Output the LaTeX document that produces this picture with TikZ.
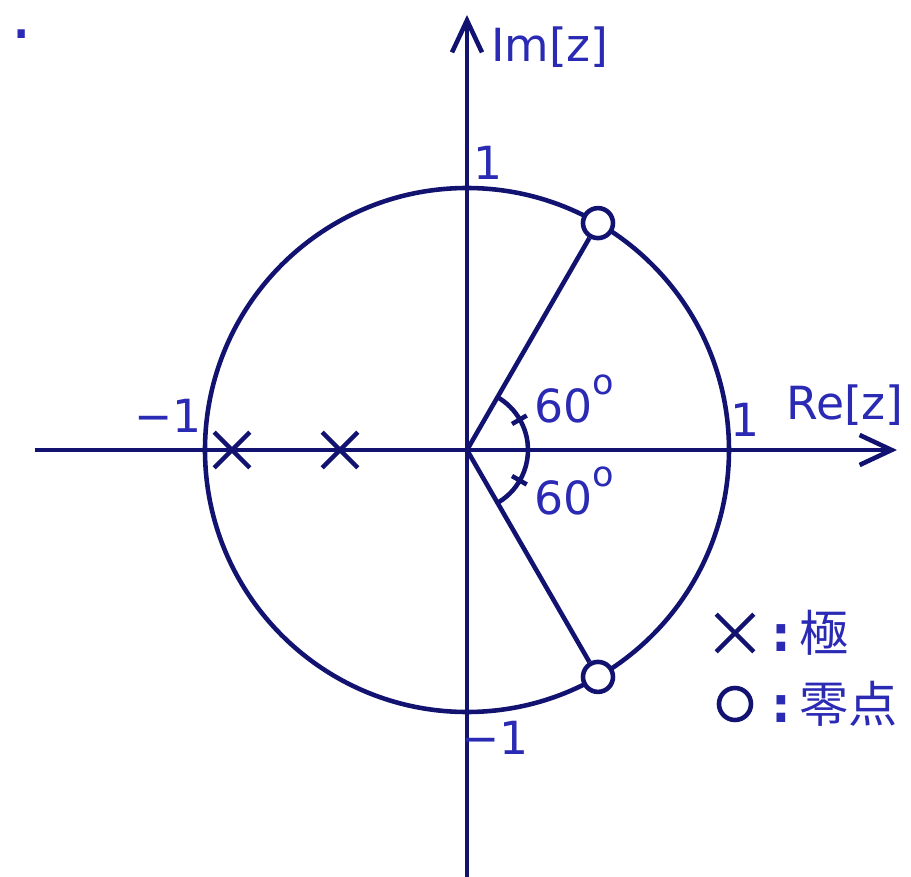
\documentclass[tikz,border=0pt]{standalone}
\usepackage{fontspec}
\setmainfont{DejaVu Sans}
\newfontfamily\jpfont{Noto Sans CJK JP}
\usepackage{tikz}
\usetikzlibrary{arrows.meta,shapes.misc}
\usepackage{xcolor}
\definecolor{navy}{HTML}{121270}
\definecolor{textblue}{HTML}{2A2AB4}
\newcommand{\dego}{\raisebox{8pt}{\fontsize{10}{12}\selectfont o}}

\begin{document}
\begin{tikzpicture}[
  axis/.style={-{Straight Barb[length=3.2mm,width=3mm]},line width=1.3pt,navy},
  line/.style={line width=1.3pt,navy},
  pole/.style={cross out,draw=navy,line width=1.3pt,minimum size=3.1mm,inner sep=0pt},
  zero/.style={circle,draw=navy,fill=white,line width=1.3pt,minimum size=3mm,inner sep=0pt},
  lbl/.style={textblue,font=\fontsize{13}{15}\selectfont,inner sep=1pt},
  jp/.style={textblue,font=\fontsize{14}{16}\selectfont,inner sep=1pt}]
  \useasboundingbox (-4.67,-4.27) rectangle (4.44,4.50);

  % axes and unit circle
  \coordinate (o) at (0,0);
  \coordinate (xl) at (-4.32,0);
  \coordinate (xr) at (4.30,0);
  \coordinate (yb) at (0,-4.30);
  \coordinate (yt) at (0,4.35);
  \draw[axis] (xl) -- (xr);
  \draw[axis] (yb) -- (yt);
  \draw[line] (o) circle[radius=2.62];

  % zeros and poles
  \node[zero] (z1) at (60:2.62) {};
  \node[zero] (z2) at (-60:2.62) {};
  \draw[line] (o) -- (z1);
  \draw[line] (o) -- (z2);
  \node[pole] (p1) at (-2.35,0) {};
  \node[pole] (p2) at (-1.27,0) {};

  % angle marks
  \draw[line] (-60:0.61) arc[start angle=-60,end angle=60,radius=0.61];
  \draw[line] (30:0.52) -- (30:0.69);
  \draw[line] (-30:0.52) -- (-30:0.69);
  \node[lbl,anchor=base west] (a1) at (0.63,0.27) {60\dego};
  \node[lbl,anchor=base west] (a2) at (0.63,-0.65) {60\dego};

  % axis labels
  \node[lbl] (im) at (0.83,4.03) {Im[z]};
  \node[lbl] (re) at (3.78,0.45) {Re[z]};
  \node[lbl] (t1) at (0.21,2.87) {1};
  \node[lbl] (b1) at (0.28,-2.88) {−1};
  \node[lbl] (l1) at (-2.99,0.34) {−1};
  \node[lbl] (r1) at (2.78,0.30) {1};
  \node[lbl,anchor=base,font=\fontsize{20}{22}\selectfont] (dot) at (-4.45,4.12) {.};

  % legend
  \node[pole,minimum size=3.3mm] (lp) at (2.68,-1.83) {};
  \node[zero,minimum size=3.2mm] (lz) at (2.68,-2.54) {};
  \node[jp,anchor=west] (lpt) at (3.00,-1.83) {\textbf{:}\,\jpfont 極};
  \node[jp,anchor=west] (lzt) at (3.00,-2.54) {\textbf{:}\,\jpfont 零点};
\end{tikzpicture}
\end{document}
